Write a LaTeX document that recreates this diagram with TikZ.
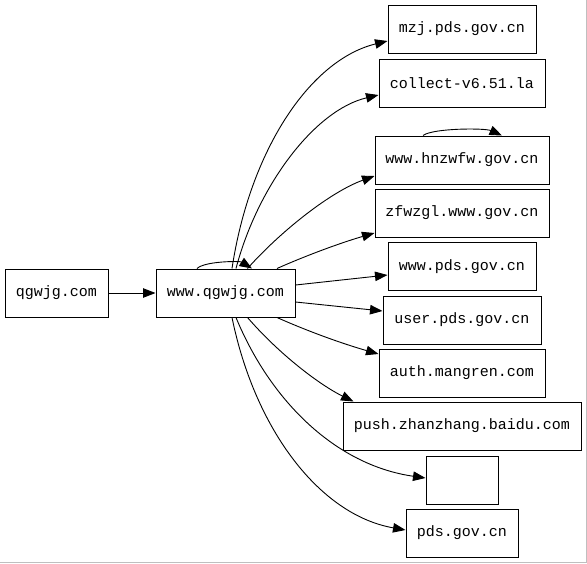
\documentclass[tikz,border=0pt]{standalone}
\usepackage{fontspec}
\newfontfamily\gvmono{Liberation Mono}
\usetikzlibrary{arrows.meta}
\tikzset{
  box/.style={draw=black, line width=1pt, rectangle, inner sep=0pt, minimum height=48pt,
    font=\gvmono\fontsize{15}{17}\selectfont},
  edge/.style={draw=black, line width=0.9pt, -{Triangle[length=12.5pt,width=9.5pt]}},
}
\begin{document}
\begin{tikzpicture}[x=1pt,y=-1pt]
\useasboundingbox (0,0) rectangle (587,563);
\fill[white] (0,0) rectangle (587,563);
\draw[gray!50, line width=1pt] (586.5,0) -- (586.5,562.5) -- (0,562.5);

\node[box, minimum width=103pt] (q) at (56.5,293) {qgwjg.com};
\node[box, minimum width=139pt] (w) at (225.5,293) {www.qgwjg.com};
\node[box, minimum width=148pt] (mzj) at (462,29) {mzj.pds.gov.cn};
\node[box, minimum width=166pt] (col) at (462,83) {collect-v6.51.la};
\node[box, minimum width=174pt] (hnz) at (462,160) {www.hnzwfw.gov.cn};
\node[box, minimum width=174pt] (zfw) at (462,213) {zfwzgl.www.gov.cn};
\node[box, minimum width=148pt] (wpds) at (462,266.5) {www.pds.gov.cn};
\node[box, minimum width=158pt] (user) at (462,320) {user.pds.gov.cn};
\node[box, minimum width=166pt] (auth) at (462,373) {auth.mangren.com};
\node[box, minimum width=238pt] (push) at (462,426) {push.zhanzhang.baidu.com};
\node[box, minimum width=72pt] (empty) at (462,480) {};
\node[box, minimum width=112pt] (pds) at (462,533) {pds.gov.cn};

\draw[edge] (q) -- (w);
\draw[edge] ([xshift=-28.5pt]w.north) .. controls (205,261) and (240,261) .. ([xshift=26.5pt]w.north);
\draw[edge] ([xshift=-39pt]hnz.north) .. controls (433,128) and (485,128) .. ([xshift=40pt]hnz.north);

\draw[edge] ([xshift=6.5pt]w.north) .. controls (250,150) and (310,60) .. ([yshift=-12pt]mzj.west);
\draw[edge] ([xshift=10.5pt]w.north) .. controls (258,185) and (315,110) .. ([yshift=-12pt]col.west);
\draw[edge] ([xshift=22pt]w.north) .. controls (280,232) and (330,192) .. ([yshift=-16pt]hnz.west);
\draw[edge] ([xshift=51.5pt]w.north) .. controls (305,256) and (340,243) .. ([yshift=-20pt]zfw.west);
\draw[edge] ([yshift=8pt]w.east) -- ([yshift=-8.5pt]wpds.west);
\draw[edge] ([yshift=-9pt]w.east) -- ([yshift=9pt]user.west);
\draw[edge] ([xshift=51.5pt]w.south) .. controls (305,330) and (340,343) .. ([yshift=19pt]auth.west);
\draw[edge] ([xshift=22pt]w.south) .. controls (280,355) and (320,385) .. ([xshift=11pt]push.north west);
\draw[edge] ([xshift=10.5pt]w.south) .. controls (270,400) and (335,465) .. ([yshift=2pt]empty.west);
\draw[edge] ([xshift=6.5pt]w.south) .. controls (255,430) and (320,515) .. ([yshift=3pt]pds.west);
\end{tikzpicture}
\end{document}
